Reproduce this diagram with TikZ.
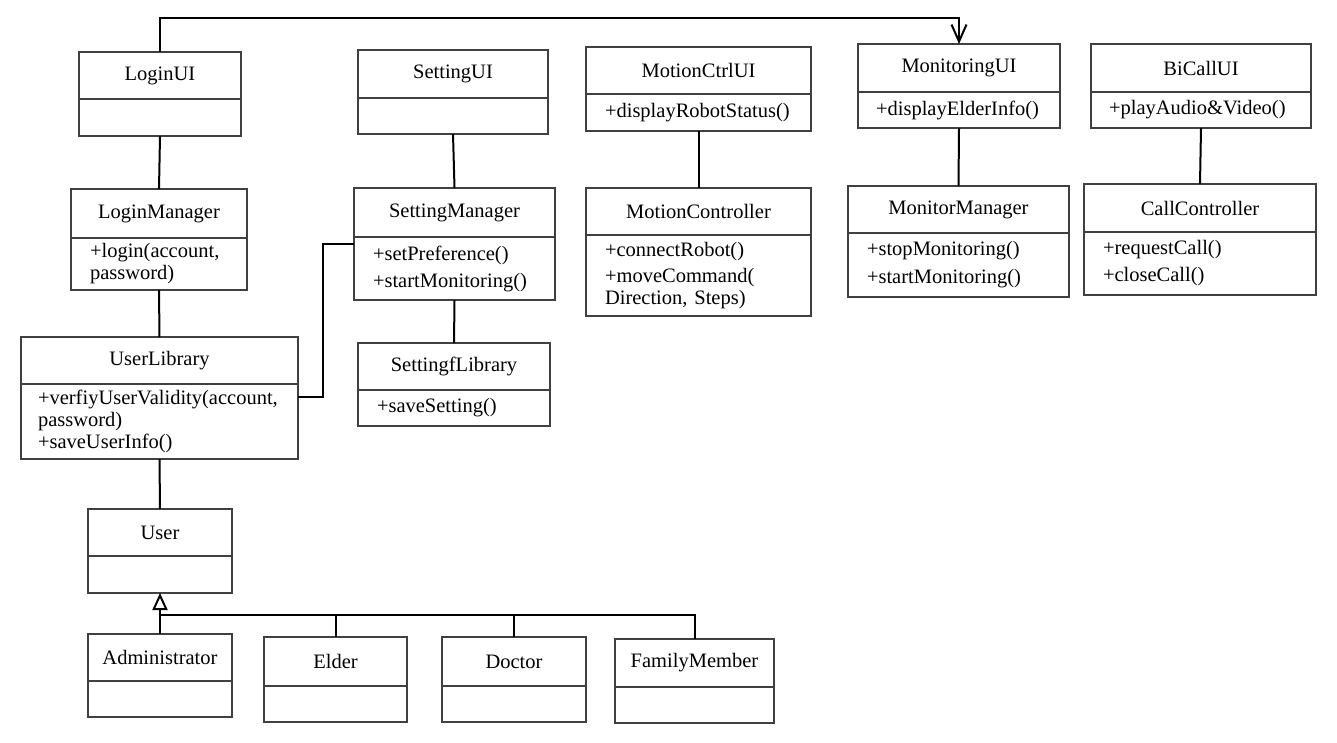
\documentclass[tikz,border=0pt]{standalone}
\usepackage{fontspec}
\setmainfont{Liberation Serif}
\usetikzlibrary{arrows.meta,positioning}

\begin{document}
\begin{tikzpicture}[
  x=1pt, y=-1pt,
  cls/.style={draw=black!75, line width=1.4pt, outer sep=0pt, font=\fontsize{20.5}{22}\selectfont},
  hd/.style={cls, anchor=north west, inner sep=0pt},
  ops/.style={cls, align=left, inner xsep=19pt, inner ysep=0pt},
  link/.style={line width=2pt},
  nav/.style={link, -{Straight Barb[length=17pt, width=15pt]}},
  gen/.style={link, -{Triangle[open, length=17pt, width=15pt, fill=white]}}
]
\useasboundingbox (0,0) rectangle (1337,742);

% login / user column
\node[hd, minimum width=162pt, minimum height=47pt] (loginui) at (79,52) {LoginUI};
\node[ops, below=0pt of loginui, text width=124pt, minimum height=37pt] (loginuiop) {};
\node[hd, minimum width=176pt, minimum height=49pt] (loginmgr) at (71,189) {LoginManager};
\node[ops, below=0pt of loginmgr, text width=138pt, minimum height=52pt] (loginmgrop) {+login(account,\\password)};
\node[hd, minimum width=277pt, minimum height=47pt] (userlib) at (21,337) {UserLibrary};
\node[ops, below=0pt of userlib, text width=243pt, inner xsep=17pt, minimum height=75pt] (userlibop) {+verfiyUserValidity(account,\\password)\\+saveUserInfo()};
\node[hd, minimum width=144pt, minimum height=47pt] (user) at (88,509) {User};
\node[ops, below=0pt of user, text width=106pt, minimum height=37pt] (userop) {};

% user kinds
\node[hd, minimum width=144pt, minimum height=47pt] (admin) at (88,634) {Administrator};
\node[ops, below=0pt of admin, text width=106pt, minimum height=36pt] (adminop) {};
\node[hd, minimum width=143pt, minimum height=49pt] (elder) at (264,637) {Elder};
\node[ops, below=0pt of elder, text width=105pt, minimum height=36pt] (elderop) {};
\node[hd, minimum width=144pt, minimum height=49pt] (doctor) at (442,637) {Doctor};
\node[ops, below=0pt of doctor, text width=106pt, minimum height=36pt] (doctorop) {};
\node[hd, minimum width=159pt, minimum height=48pt] (family) at (615,639) {FamilyMember};
\node[ops, below=0pt of family, text width=121pt, minimum height=36pt] (familyop) {};

% setting column
\node[hd, minimum width=190pt, minimum height=48pt] (setui) at (358,50) {SettingUI};
\node[ops, below=0pt of setui, text width=152pt, minimum height=36pt] (setuiop) {};
\node[hd, minimum width=201pt, minimum height=49pt] (setmgr) at (354,188) {SettingManager};
\node[ops, below=0pt of setmgr, text width=163pt, minimum height=63pt] (setmgrop) {+setPreference()\\[5pt]+startMonitoring()};
\node[hd, minimum width=192pt, minimum height=47pt] (setlib) at (358,343) {SettingfLibrary};
\node[ops, below=0pt of setlib, text width=154pt, minimum height=36pt] (setlibop) {+saveSetting()};

% motion column
\node[hd, minimum width=225pt, minimum height=47pt] (motui) at (586,47) {MotionCtrlUI};
\node[ops, below=0pt of motui, text width=187pt, minimum height=37pt] (motuiop) {+displayRobotStatus()};
\node[hd, minimum width=225pt, minimum height=47pt] (motctl) at (586,188) {MotionController};
\node[ops, below=0pt of motctl, text width=187pt, minimum height=81pt] (motctlop) {+connectRobot()\\[4pt]+moveCommand(\\Direction, Steps)};

% monitoring column
\node[hd, minimum width=202pt, minimum height=48pt] (monui) at (858,44) {MonitoringUI};
\node[ops, below=0pt of monui, text width=166pt, inner xsep=18pt, minimum height=36pt] (monuiop) {+displayElderInfo()};
\node[hd, minimum width=221pt, minimum height=47pt] (monmgr) at (848,186) {MonitorManager};
\node[ops, below=0pt of monmgr, text width=183pt, minimum height=64pt] (monmgrop) {+stopMonitoring()\\[6pt]+startMonitoring()};

% call column
\node[hd, minimum width=220pt, minimum height=48pt] (callui) at (1091,44) {BiCallUI};
\node[ops, below=0pt of callui, text width=184pt, inner xsep=18pt, minimum height=36pt] (calluiop) {+playAudio\&Video()};
\node[hd, minimum width=232pt, minimum height=48pt] (callctl) at (1084,184) {CallController};
\node[ops, below=0pt of callctl, text width=194pt, minimum height=63pt] (callctlop) {+requestCall()\\[5pt]+closeCall()};

% connectors
\coordinate (topbend) at (160,18);
\coordinate (bus) at (160,615);
\draw[nav] (loginui.north) -- (topbend) -| (monui.north);
\draw[link] (loginuiop.south) -- (loginmgr.north);
\draw[link] (loginmgrop.south) -- (userlib.north);
\draw[link] (userlibop.south) -- (user.north);
\draw[gen] (admin.north) -- (userop.south);
\draw[link] (bus) -| (elder.north);
\draw[link] (bus) -| (doctor.north);
\draw[link] (bus) -| (family.north);
\draw[link] (setuiop.south) -- (setmgr.north);
\draw[link] (setmgrop.south) -- (setlib.north);
\draw[link] ([yshift=-7pt]setmgrop.north west) -- ++(-31.5pt,0) |- ([yshift=-13pt]userlibop.north east);
\draw[link] (motuiop.south) -- (motctl.north);
\draw[link] (monuiop.south) -- (monmgr.north);
\draw[link] (calluiop.south) -- (callctl.north);
\end{tikzpicture}
\end{document}
